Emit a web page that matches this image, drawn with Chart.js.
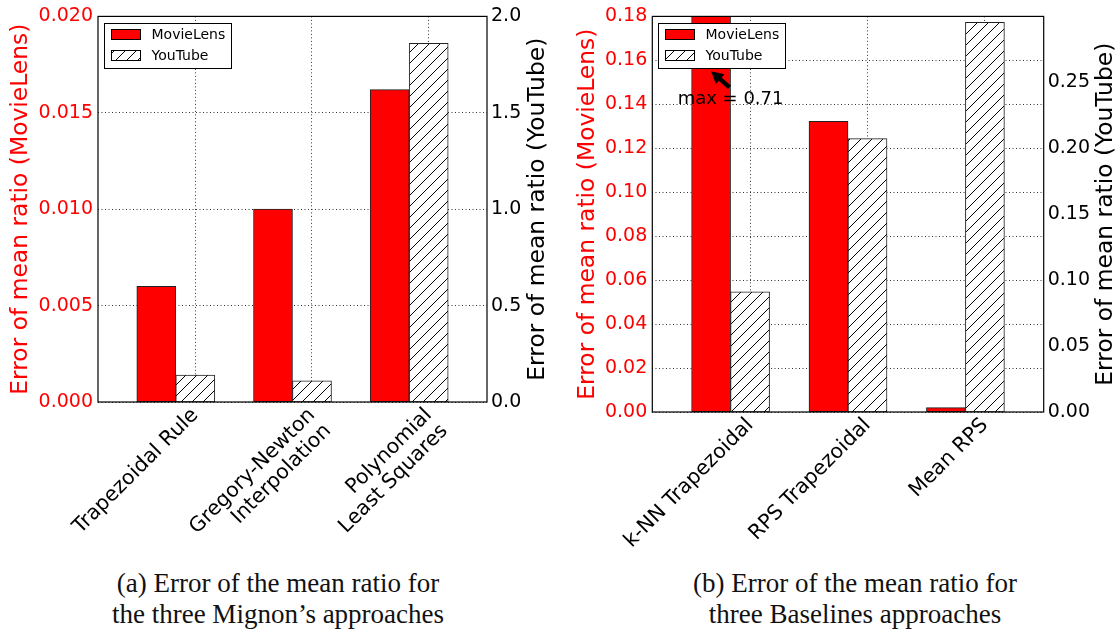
<!DOCTYPE html>
<html>
<head>
<meta charset="utf-8">
<script src="https://cdn.jsdelivr.net/npm/chart.js@4/dist/chart.umd.min.js"></script>
<style>
body { margin:0; background:#fff; width:1120px; height:637px; position:relative; overflow:hidden; }
canvas { position:absolute; top:0; }
#ca { left:0; }
#cb { left:560px; }
.cap { position:absolute; top:568px; font-family:"Liberation Serif", serif; font-size:27px; line-height:31px; text-align:center; color:#111; }
</style>
</head>
<body>
<canvas id="ca" width="560" height="565"></canvas>
<canvas id="cb" width="560" height="565"></canvas>
<div class="cap" style="left:0;width:556px">(a) Error of the mean ratio for<br>the three Mignon’s approaches</div>
<div class="cap" style="left:580px;width:550px">(b) Error of the mean ratio for<br>three Baselines approaches</div>
<script>
// (a) Mignon's approaches
var labelsA = [['Trapezoidal Rule'], ['Gregory-Newton', 'Interpolation'], ['Polynomial', 'Least Squares']];
var movieLensA = [0.0060, 0.0100, 0.0162];
var youTubeA = [0.14, 0.11, 1.86];
var yRangeA = [0.02, 0.005, 3];   // max, step, decimals
var y2RangeA = [2.0, 0.5, 1];

// (b) baselines
var labelsB = ['k-NN Trapezoidal', 'RPS Trapezoidal', 'Mean RPS'];
var movieLensB = [0.71, 0.1322, 0.0020];
var youTubeB = [0.091, 0.207, 0.295];
var yRangeB = [0.18, 0.02, 2];
var y2RangeB = [0.2995, 0.05, 2];
var noteB = { index: 0, y: 0.14, arrowTo: 0.155 };

Chart.defaults.font.family = '"DejaVu Sans", sans-serif';

function makeHatch() {
	var c = document.createElement('canvas');
	var n = 11;
	c.width = n; c.height = n;
	var g = c.getContext('2d');
	g.fillStyle = '#fff';
	g.fillRect(0, 0, n, n);
	g.strokeStyle = '#000';
	g.lineWidth = 1;
	g.beginPath();
	g.moveTo(0, n); g.lineTo(n, 0);
	g.moveTo(-1, 1); g.lineTo(1, -1);
	g.moveTo(n - 1, n + 1); g.lineTo(n + 1, n - 1);
	g.stroke();
	return g.createPattern(c, 'repeat');
}
var hatch = makeHatch();

// black box round the plot
var frame = {
	id: 'frame',
	afterDatasetsDraw: function (chart) {
		var a = chart.chartArea, ctx = chart.ctx;
		ctx.save();
		ctx.strokeStyle = '#000';
		ctx.lineWidth = 1.2;
		ctx.strokeRect(a.left, a.top, a.right - a.left, a.bottom - a.top);
		ctx.restore();
	}
};

// legend in a box, top left inside the plot
var boxLegend = {
	id: 'boxLegend',
	afterDraw: function (chart) {
		var a = chart.chartArea, ctx = chart.ctx;
		var x = Math.round(a.left) + 6.5, y = Math.round(a.top) + 7.5;
		ctx.save();
		ctx.fillStyle = '#fff';
		ctx.fillRect(x, y, 127, 45);
		ctx.strokeStyle = '#000';
		ctx.lineWidth = 1;
		ctx.strokeRect(x, y, 127, 45);
		chart.data.datasets.forEach(function (ds, i) {
			var ry = y + 6 + i * 21;
			ctx.fillStyle = ds.backgroundColor;
			ctx.fillRect(x + 7, ry, 29, 10);
			ctx.strokeStyle = '#000';
			ctx.strokeRect(x + 7, ry, 29, 10);
			ctx.fillStyle = '#000';
			ctx.font = '14px "DejaVu Sans"';
			ctx.textAlign = 'left';
			ctx.textBaseline = 'middle';
			ctx.fillText(ds.label, x + 47, ry + 5.5);
		});
		ctx.restore();
	}
};

// right y title reads bottom to top, like the left one
var sideTitle = {
	id: 'sideTitle',
	afterDraw: function (chart, args, opts) {
		var a = chart.chartArea, ctx = chart.ctx;
		ctx.save();
		ctx.translate(a.right + opts.offset, (a.top + a.bottom) / 2);
		ctx.rotate(-Math.PI / 2);
		ctx.font = '23.4px "DejaVu Sans"';
		ctx.fillStyle = '#000';
		ctx.textAlign = 'center';
		ctx.textBaseline = 'middle';
		ctx.fillText(opts.text, 0, 0);
		ctx.restore();
	}
};

// "max = 0.71" with arrow to the clipped bar
var maxNote = {
	id: 'maxNote',
	afterDatasetsDraw: function (chart) {
		var ctx = chart.ctx, xs = chart.scales.x, ys = chart.scales.y;
		var tx = xs.getPixelForValue(noteB.index), ty = ys.getPixelForValue(noteB.y);
		ctx.save();
		ctx.font = '18px "DejaVu Sans"';
		ctx.fillStyle = '#000';
		ctx.textAlign = 'center';
		ctx.textBaseline = 'alphabetic';
		ctx.fillText('max = ' + movieLensB[noteB.index].toFixed(2), tx, ty);
		var bar = chart.getDatasetMeta(0).data[noteB.index];
		var hx = bar.x, hy = ys.getPixelForValue(noteB.arrowTo);
		var sx = tx - 1, sy = ty - 17;
		var dx = hx - sx, dy = hy - sy, len = Math.sqrt(dx * dx + dy * dy);
		var ux = dx / len, uy = dy / len, px = -uy, py = ux;
		var head = 12, hw = 6.5, sw = 2.2;
		ctx.beginPath();
		ctx.moveTo(sx + px * sw, sy + py * sw);
		ctx.lineTo(hx - ux * head + px * sw, hy - uy * head + py * sw);
		ctx.lineTo(hx - ux * head + px * hw, hy - uy * head + py * hw);
		ctx.lineTo(hx, hy);
		ctx.lineTo(hx - ux * head - px * hw, hy - uy * head - py * hw);
		ctx.lineTo(hx - ux * head - px * sw, hy - uy * head - py * sw);
		ctx.lineTo(sx - px * sw, sy - py * sw);
		ctx.closePath();
		ctx.fill();
		ctx.restore();
	}
};

function barChart(id, labels, ml, yt, yr, y2r, geo, extra) {
	var shift = 1 / 6;   // tick sits on the YouTube bar
	return new Chart(document.getElementById(id), {
		type: 'bar',
		data: {
			datasets: [{
				label: 'MovieLens',
				data: ml.map(function (v, i) { return { x: i, y: v }; }),
				yAxisID: 'y',
				backgroundColor: '#ff0000'
			}, {
				label: 'YouTube',
				data: yt.map(function (v, i) { return { x: i, y: v }; }),
				yAxisID: 'y1',
				backgroundColor: hatch
			}]
		},
		options: {
			responsive: false,
			animation: false,
			layout: { padding: { top: 15, left: 0, right: 0, bottom: 0 } },
			datasets: { bar: { barThickness: 39, borderWidth: 1, borderColor: '#222', borderSkipped: false } },
			plugins: {
				legend: { display: false },
				tooltip: { enabled: false },
				sideTitle: { text: 'Error of mean ratio (YouTube)', offset: geo.titleR }
			},
			scales: {
				x: {
					type: 'linear',
					min: -2 / 3,
					max: 8 / 3,
					offset: false,
					afterBuildTicks: function (s) {
						s.ticks = labels.map(function (l, i) { return { value: i + shift }; });
					},
					afterFit: function (s) { s.height = geo.xh; },
					ticks: {
						autoSkip: false,
						minRotation: 45,
						maxRotation: 45,
						color: '#000',
						padding: 2,
						font: { size: 20.5, lineHeight: 1.1 },
						callback: function (v, i) { return labels[i]; }
					},
					grid: { offset: false, color: '#000', lineWidth: 0.8, drawTicks: false },
					border: { display: false, dash: [1, 2.5] }
				},
				y: {
					position: 'left',
					min: 0,
					max: yr[0],
					ticks: {
						stepSize: yr[1],
						color: '#ff0000',
						padding: 5,
						font: { size: 19 },
						callback: function (v) { return v.toFixed(yr[2]); }
					},
					title: {
						display: true,
						text: 'Error of mean ratio (MovieLens)',
						color: '#ff0000',
						font: { size: 23.4 },
						padding: { top: geo.titleL, bottom: 0 }
					},
					afterFit: function (s) { s.width = geo.left; },
					grid: { color: '#000', lineWidth: 0.8, drawTicks: false },
					border: { display: false, dash: [1, 2.5] }
				},
				y1: {
					position: 'right',
					min: 0,
					max: y2r[0],
					bounds: 'data',
					ticks: {
						stepSize: y2r[1],
						includeBounds: false,
						color: '#000',
						padding: 4,
						font: { size: 19 },
						callback: function (v) { return v.toFixed(y2r[2]); }
					},
					afterFit: function (s) { s.width = geo.right; },
					grid: { display: false, drawTicks: false },
					border: { display: false }
				}
			}
		},
		plugins: [frame, sideTitle].concat(extra || []).concat([boxLegend])
	});
}

barChart('ca', labelsA, movieLensA, youTubeA, yRangeA, y2RangeA,
	{ left: 98, right: 73, xh: 163, titleL: 7, titleR: 51 });
barChart('cb', labelsB, movieLensB, youTubeB, yRangeB, y2RangeB,
	{ left: 92.3, right: 76.3, xh: 153, titleL: 14, titleR: 62.3 }, [maxNote]);
</script>
</body>
</html>
